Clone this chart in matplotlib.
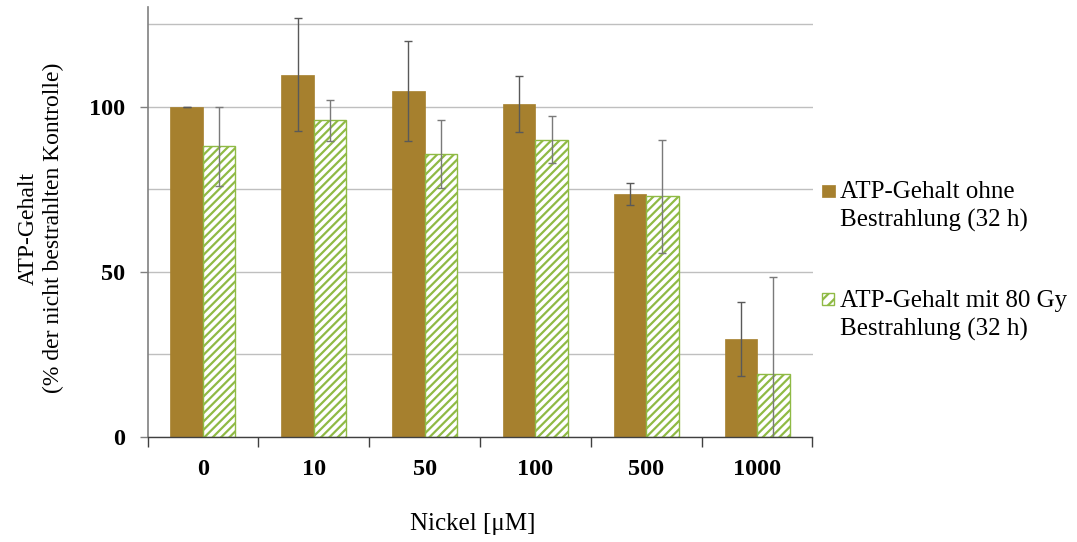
import matplotlib
matplotlib.use('Agg')
import matplotlib.pyplot as plt
from matplotlib.patches import Rectangle
from matplotlib.ticker import MultipleLocator
import numpy as np

# datos
nickel = ['0', '10', '50', '100', '500', '1000']
atp_ohne = [100, 109.7, 104.8, 100.8, 73.5, 29.8]
err_ohne = [0, 17.1, 15.1, 8.4, 3.3, 11.2]
atp_mit = [88, 95.8, 85.7, 90, 72.8, 19.2]
err_mit = [12, 6.1, 10.2, 7.1, 17.1, 29.2]
etiquetas = ['ATP-Gehalt ohne\nBestrahlung (32 h)', 'ATP-Gehalt mit 80 Gy\nBestrahlung (32 h)']

braun = '#A6802E'
gruen = '#8FBA45'

plt.rcParams['font.family'] = ['Liberation Serif', 'DejaVu Serif']
plt.rcParams['hatch.linewidth'] = 1.6

fig = plt.figure(figsize=(10.77, 5.42), dpi=100)
ax = fig.add_axes([147.5/1077, 1-437/542, 665/1077, 429.5/542])

x = np.arange(len(nickel))
w = 0.293

ax.bar(x - w/2, atp_ohne, w, color=braun, edgecolor=braun, linewidth=0.5, zorder=2)
ax.bar(x + w/2, atp_mit, w, color='white', edgecolor=gruen, hatch='////', linewidth=1, zorder=2)
ax.errorbar(x - w/2, atp_ohne, yerr=err_ohne, fmt='none', ecolor='#595959',
            elinewidth=1, capsize=3, capthick=1, zorder=3)
ax.errorbar(x + w/2, atp_mit, yerr=err_mit, fmt='none', ecolor='#7a7a7a',
            elinewidth=1, capsize=3, capthick=1, zorder=3)

ax.set_xlim(-0.5, len(nickel) - 0.5)
ax.set_ylim(0, 130)
ax.yaxis.set_major_locator(MultipleLocator(50))
ax.yaxis.set_minor_locator(MultipleLocator(25))
ax.grid(axis='y', which='both', color='#bfbfbf', linewidth=1, zorder=0)
ax.set_axisbelow(True)

ax.set_xticks(np.arange(len(nickel) + 1) - 0.5)
ax.set_xticklabels([])
ax.set_xticks(x, minor=True)
ax.set_xticklabels(nickel, minor=True, fontsize=17.5, fontweight='bold')
ax.tick_params(axis='x', which='major', length=7, width=1, color='#404040')
ax.tick_params(axis='x', which='minor', length=0, pad=16)
ax.tick_params(axis='y', which='major', length=6, width=1, color='#808080', labelsize=17.5, pad=10)
ax.tick_params(axis='y', which='minor', length=0)
for t in ax.get_yticklabels():
    t.set_fontweight('bold')

for s in ['top', 'right']:
    ax.spines[s].set_visible(False)
ax.spines['left'].set_color('#808080')
ax.spines['left'].set_linewidth(1.2)
ax.spines['bottom'].set_color('#404040')
ax.spines['bottom'].set_linewidth(1)

fig.text(41/1077, 1-228/542, 'ATP-Gehalt\n(% der nicht bestrahlten Kontrolle)', rotation=90,
         ha='center', va='center', fontsize=17, linespacing=1.25)
fig.text(473/1077, 1-524/542, 'Nickel [μM]', ha='center', va='center', fontsize=18)

# leyenda hecha a mano
for i, lab in enumerate(etiquetas):
    y0 = 198 + i*109
    if i == 0:
        r = Rectangle((822/1077, 1-(y0-1)/542), 13/1077, 12/542, transform=fig.transFigure,
                      facecolor=braun, edgecolor=braun, linewidth=0.5)
    else:
        r = Rectangle((822/1077, 1-(y0-2)/542), 12/1077, 12/542, transform=fig.transFigure,
                      facecolor='white', edgecolor=gruen, hatch='///', linewidth=1)
    fig.add_artist(r)
    for j, linea in enumerate(lab.split('\n')):
        fig.text(840/1077, 1-(y0 + j*29)/542, linea, ha='left', va='baseline', fontsize=18)

fig.savefig('out.png', dpi=100)
